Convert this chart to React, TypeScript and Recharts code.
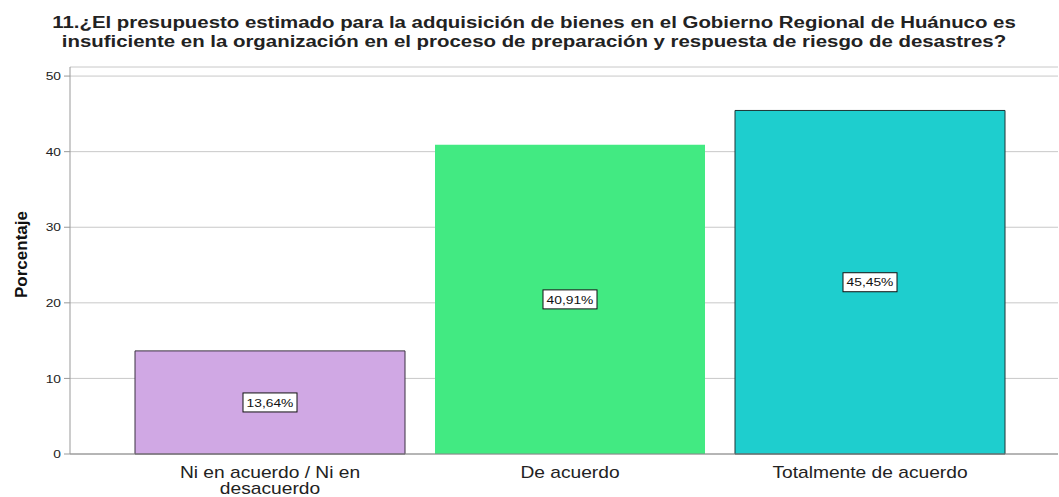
import React from 'react';
import { BarChart, Bar, XAxis, YAxis, CartesianGrid, Cell, LabelList, Text } from 'recharts';

const categories = ['Ni en acuerdo / Ni en desacuerdo', 'De acuerdo', 'Totalmente de acuerdo'];
const percentages = [13.64, 40.91, 45.45];
const barColors = ['#D0A8E4', '#42EA82', '#1ECECE'];
const barStrokes = ['#3a3040', 'none', '#1c3434'];
const yTicks = [0, 10, 20, 30, 40, 50];

const titleLines = [
  '11.¿El presupuesto estimado para la adquisición de bienes en el Gobierno Regional de Huánuco es',
  'insuficiente en la organización en el proceso de preparación y respuesta de riesgo de desastres?',
];

const FONT = '"Liberation Sans", Arial, sans-serif';
// the source picture is stretched sideways, so text gets the same widening
const STRETCH = 1.2;

const data = categories.map((name, i) => ({ name, value: percentages[i] }));

const formatPct = (v: number) => `${v.toFixed(2).replace('.', ',')}%`;

const CategoryTick = (props: any) => {
  const { x, y, payload } = props;
  return (
    <g transform={`translate(${x},${y + 5}) scale(${STRETCH},1)`}>
      <Text
        x={0}
        y={0}
        width={200}
        textAnchor="middle"
        verticalAnchor="start"
        lineHeight={16}
        style={{ fontSize: 16, fontFamily: FONT }}
        fill="#222"
      >
        {payload.value}
      </Text>
    </g>
  );
};

const ValueTick = (props: any) => {
  const { x, y, payload } = props;
  return (
    <g transform={`translate(${x},${y}) scale(${STRETCH},1)`}>
      <text x={0} y={0} dy="0.36em" textAnchor="end" fontSize={11.5} fontFamily={FONT} fill="#222">
        {payload.value}
      </text>
    </g>
  );
};

const ValueLabel = (props: any) => {
  const { x, y, width, height, value } = props;
  const cx = x + width / 2;
  const cy = y + height / 2;
  return (
    <g>
      <rect x={cx - 27} y={cy - 9.5} width={54} height={19} fill="#fff" stroke="#111" strokeWidth={1} />
      <g transform={`translate(${cx},${cy}) scale(${STRETCH},1)`}>
        <text x={0} y={0} dy="0.36em" textAnchor="middle" fontSize={11.5} fontFamily={FONT} fill="#111">
          {formatPct(value)}
        </text>
      </g>
    </g>
  );
};

const AxisTitle = (props: any) => {
  const { viewBox } = props;
  const cx = 21;
  const cy = viewBox.y + viewBox.height / 2 - 6;
  return (
    <text
      x={cx}
      y={cy}
      transform={`rotate(-90, ${cx}, ${cy})`}
      textAnchor="middle"
      dy="0.36em"
      fontSize={17}
      fontWeight={700}
      fontFamily={FONT}
      fill="#111"
    >
      Porcentaje
    </text>
  );
};

const titleLineStyle = (top: number): React.CSSProperties => ({
  position: 'absolute',
  left: 0,
  top,
  width: 1068,
  height: 18,
  textAlign: 'center',
  fontFamily: FONT,
  fontWeight: 700,
  fontSize: 16,
  lineHeight: '18px',
  color: '#222',
  whiteSpace: 'nowrap',
  transform: 'scaleX(1.275)',
  transformOrigin: '534px 0',
});

export default function App() {
  return (
    <div style={{ position: 'absolute', left: 0, top: 0, width: 1059, height: 497, background: '#fff', overflow: 'hidden' }}>
      <div style={titleLineStyle(14)}>{titleLines[0]}</div>
      <div style={titleLineStyle(32.5)}>{titleLines[1]}</div>
      <BarChart width={1059} height={497} data={data} margin={{ top: 67, right: 1, bottom: 0, left: 0 }}>
        <CartesianGrid vertical={false} stroke="#c8c8c8" />
        <XAxis
          dataKey="name"
          height={43}
          axisLine={{ stroke: '#888' }}
          tickLine={false}
          tickSize={6}
          tickMargin={2}
          padding={{ left: 50, right: 38 }}
          interval={0}
          tick={<CategoryTick />}
        />
        <YAxis
          width={70}
          domain={[0, 51.2]}
          ticks={yTicks}
          axisLine={{ stroke: '#999' }}
          tickLine={{ stroke: '#999' }}
          tickSize={6}
          tickMargin={3}
          tick={<ValueTick />}
          label={<AxisTitle />}
        />
        <Bar dataKey="value" barSize={270} isAnimationActive={false}>
          {data.map((d, i) => (
            <Cell key={d.name} fill={barColors[i]} stroke={barStrokes[i]} strokeWidth={1} />
          ))}
          <LabelList dataKey="value" content={<ValueLabel />} />
        </Bar>
      </BarChart>
    </div>
  );
}
